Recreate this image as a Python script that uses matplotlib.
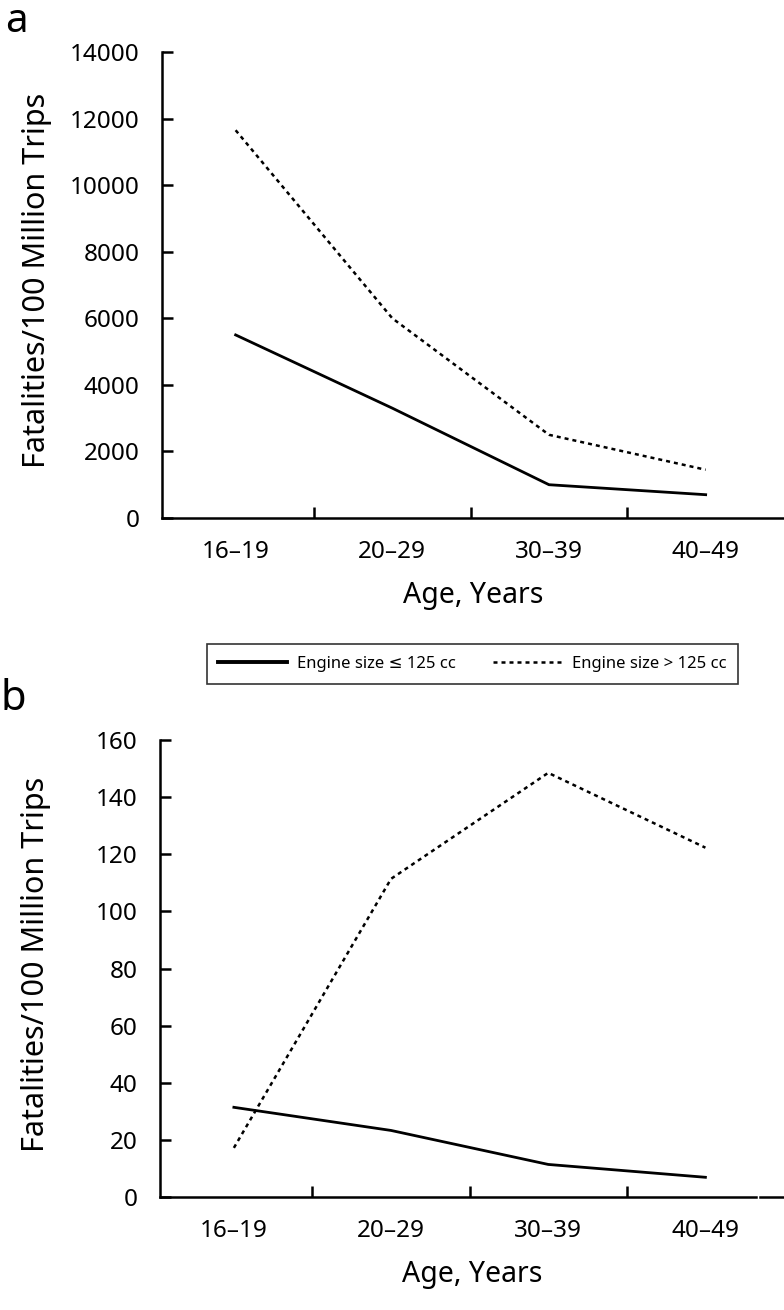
import matplotlib
matplotlib.use("Agg")
import matplotlib.pyplot as plt
from matplotlib.lines import Line2D

plt.rcParams['font.family'] = ['Noto Sans', 'DejaVu Sans']

ages = ["16–19", "20–29", "30–39", "40–49"]
a_small = [5500, 3300, 1000, 700]
a_large = [11650, 6000, 2500, 1450]
b_small = [31.4, 23.3, 11.4, 6.9]
b_large = [17.2, 111.4, 148.5, 122.3]
a_yticks = [0, 2000, 4000, 6000, 8000, 10000, 12000, 14000]
b_yticks = [0, 20, 40, 60, 80, 100, 120, 140, 160]
labels = ["Engine size \u2264 125 cc", "Engine size > 125 cc"]

W, H = 784, 1310
fig = plt.figure(figsize=(W / 100, H / 100), dpi=100)

def px_axes(left, top, right, bottom):
    return fig.add_axes([left / W, 1 - bottom / H, (right - left) / W, (bottom - top) / H])

TICK_FS = 17.5
XLAB_FS = 20.5
YLAB_FS = 22
LW_SP = 1.8
dash = (0, (1.6, 1.6))

def style(ax, yticks, ymax, ylab_x, spine_end=None):
    x = list(range(len(ages)))
    ax.set_xlim(-0.47, 3.5)
    ax.set_ylim(0, ymax)
    for s in ['top', 'right']:
        ax.spines[s].set_visible(False)
    for s in ['left', 'bottom']:
        ax.spines[s].set_linewidth(LW_SP)
    if spine_end is not None:
        ax.spines['bottom'].set_bounds(-0.47, spine_end)
    ax.set_xticks(x)
    ax.set_xticklabels(ages, fontsize=TICK_FS)
    ax.set_xticks([i + 0.5 for i in x[:-1]], minor=True)
    ax.tick_params(axis='x', which='major', length=0, pad=16)
    ax.tick_params(axis='x', which='minor', direction='in', length=8, width=LW_SP)
    ax.set_yticks(yticks)
    ax.set_yticklabels([str(v) for v in yticks], fontsize=TICK_FS)
    ax.tick_params(axis='y', direction='in', length=8, width=LW_SP, pad=16)
    ax.set_xlabel("Age, Years", fontsize=XLAB_FS, labelpad=12)
    ax.set_ylabel("Fatalities/100 Million Trips", fontsize=YLAB_FS)
    ax.yaxis.set_label_coords(ylab_x, 0.51)

x = list(range(len(ages)))

# Panel a
axa = px_axes(162, 52, 784, 518)
axa.plot(x, a_small, color='black', lw=2.0, solid_joinstyle='round')
axa.plot(x, a_large, color='black', lw=1.8, linestyle=dash)
style(axa, a_yticks, 14000, -0.177)
fig.text(5 / W, 1 - 32 / H, "a", fontsize=29, ha='left', va='baseline')

# Panel b
axb = px_axes(160, 740, 784, 1197)
axb.plot(x, b_small, color='black', lw=2.0, solid_joinstyle='round')
axb.plot(x, b_large, color='black', lw=1.8, linestyle=dash)
style(axb, b_yticks, 160, -0.174, spine_end=3.32)
axb.plot([3.345, 3.5], [0, 0], color='black', lw=LW_SP, clip_on=False,
         transform=axb.get_xaxis_transform())
fig.text(1 / W, 1 - 710 / H, "b", fontsize=30, ha='left', va='baseline')

# Legend
handles = [Line2D([], [], color='black', lw=2.8),
           Line2D([], [], color='black', lw=1.8, linestyle=dash)]
leg = fig.legend(handles, labels, loc='center',
                 bbox_to_anchor=((203 + 742) / 2 / W, 1 - 664 / H),
                 ncol=2, fontsize=12, frameon=True, fancybox=False,
                 handlelength=4.1, handletextpad=0.65, columnspacing=2.2,
                 borderpad=0.7, edgecolor='black')
leg.get_frame().set_linewidth(1.2)

fig.savefig("out.png", dpi=100)
